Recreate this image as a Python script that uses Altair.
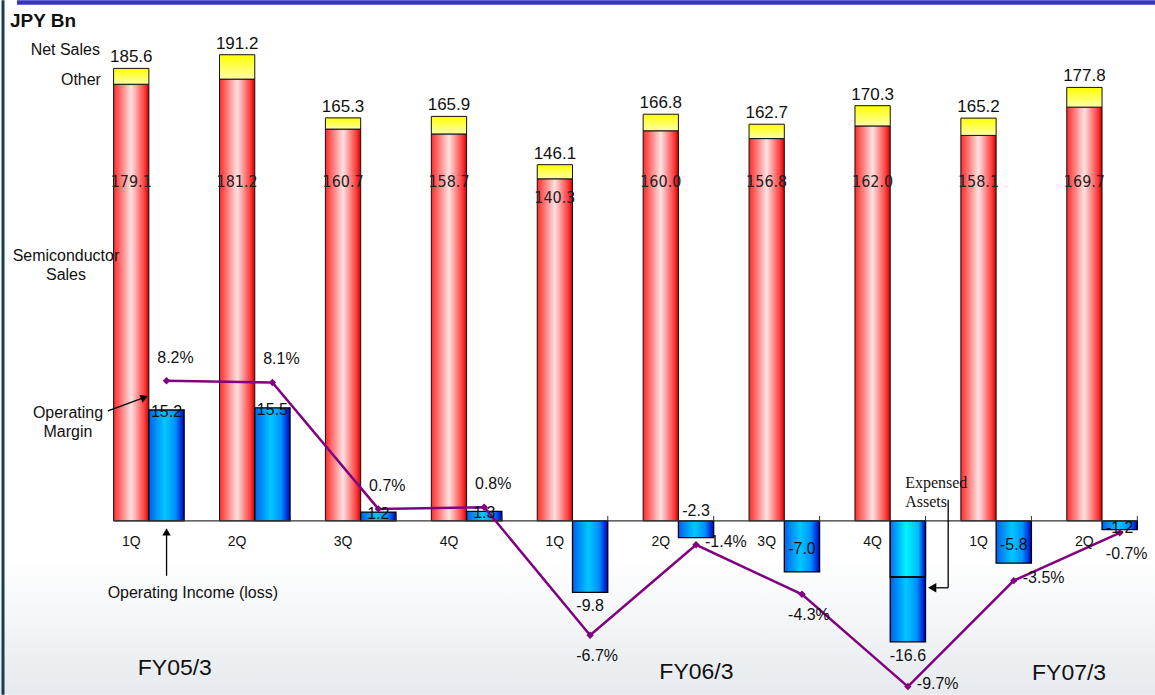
import altair as alt
import pandas as pd

# ---------------- data ----------------
quarters = ["1Q", "2Q", "3Q", "4Q", "1Q", "2Q", "3Q", "4Q", "1Q", "2Q"]
fiscal_years = ["FY05/3", "FY06/3", "FY07/3"]
net_sales = [185.6, 191.2, 165.3, 165.9, 146.1, 166.8, 162.7, 170.3, 165.2, 177.8]
semi_sales = [179.1, 181.2, 160.7, 158.7, 140.3, 160.0, 156.8, 162.0, 158.1, 169.7]
op_income = [15.2, 15.5, 1.2, 1.3, -9.8, -2.3, -7.0, -16.6, -5.8, -1.2]
op_margin = [8.2, 8.1, 0.7, 0.8, -6.7, -1.4, -4.3, -9.7, -3.5, -0.7]
expensed_assets_4q = 8.9  # lower part of the FY06/3 4Q loss bar (estimated)

# label placement (style only)
oi_label_place = ["top", "top", "top", "top", "below", "above", "center", "below", "center", "center"]
margin_label_place = ["above", "above", "above", "above", "below", "right", "below", "right", "right", "below"]

# ---------------- layout ----------------
W, H = 1060, 695
LEFT = 96
ZERO_PX = 521
PX_SALES = 2.44
PX_OI = 7.3
PX_PCT = 17.1
BW = 0.333


def dom(k):
    return [-(H - ZERO_PX) / k, ZERO_PX / k]


SANS = "Liberation Sans, Arial, sans-serif"
NARROW = "DejaVu Sans Condensed, Liberation Sans Narrow, sans-serif"
SERIF = "Liberation Serif, Times New Roman, serif"

df = pd.DataFrame({
    "i": list(range(len(quarters))),
    "q": quarters,
    "net": net_sales,
    "semi": semi_sales,
    "oi": op_income,
    "pct": op_margin,
    "oplace": oi_label_place,
    "mplace": margin_label_place,
})
df["zero"] = 0.0
df["xr0"] = df["i"] - BW
df["xr1"] = df["i"]
df["xb0"] = df["i"]
df["xb1"] = df["i"] + BW
df["xrc"] = df["i"] - BW / 2
df["xbc"] = df["i"] + BW / 2
df["net_t"] = [f"{v:.1f}" for v in net_sales]
df["semi_t"] = [f"{v:.1f}" for v in semi_sales]
df["oi_t"] = [f"{v:.1f}" for v in op_income]
df["pct_t"] = [f"{v:.1f}%" for v in op_margin]
df["oi_half"] = df["oi"] / 2
df["semi_lab"] = (df["semi"] - 8).clip(upper=139.0)

xs = alt.Scale(domain=[-0.5, 9.5], nice=False, zero=False)
ys_sales = alt.Scale(domain=dom(PX_SALES), nice=False, zero=False)
ys_oi = alt.Scale(domain=dom(PX_OI), nice=False, zero=False)
ys_pct = alt.Scale(domain=dom(PX_PCT), nice=False, zero=False)

one = pd.DataFrame({"k": [0]})

red_grad = alt.Gradient(
    gradient="linear", x1=0, x2=1, y1=0, y2=0,
    stops=[alt.GradientStop(color="#FF2A2A", offset=0),
           alt.GradientStop(color="#FFE2E2", offset=0.5),
           alt.GradientStop(color="#FF3A3A", offset=0.88),
           alt.GradientStop(color="#C80000", offset=1)])
yellow_grad = alt.Gradient(
    gradient="linear", x1=0, x2=0, y1=0, y2=1,
    stops=[alt.GradientStop(color="#FFFF00", offset=0),
           alt.GradientStop(color="#FFFFA8", offset=1)])
blue_grad = alt.Gradient(
    gradient="linear", x1=0, x2=1, y1=0, y2=0,
    stops=[alt.GradientStop(color="#0060F0", offset=0),
           alt.GradientStop(color="#00C8FF", offset=0.45),
           alt.GradientStop(color="#0090FF", offset=0.75),
           alt.GradientStop(color="#0000C8", offset=1)])
cyan_grad = alt.Gradient(
    gradient="linear", x1=0, x2=1, y1=0, y2=0,
    stops=[alt.GradientStop(color="#0070F5", offset=0),
           alt.GradientStop(color="#00F4FF", offset=0.45),
           alt.GradientStop(color="#00B8FF", offset=0.8),
           alt.GradientStop(color="#0000C8", offset=1)])
bg_grad = alt.Gradient(
    gradient="linear", x1=0, x2=0, y1=0, y2=1,
    stops=[alt.GradientStop(color="#FFFFFF", offset=0),
           alt.GradientStop(color="#FFFFFF", offset=0.8),
           alt.GradientStop(color="#E6EAEE", offset=1)])

base = alt.Chart(df)
X = lambda f: alt.X(f"{f}:Q", scale=xs, axis=None)

# background & frame
bg = alt.Chart(one).mark_rect(color=bg_grad).encode(
    x=alt.value(-LEFT), x2=alt.value(W), y=alt.value(0), y2=alt.value(H))
left_line = alt.Chart(one).mark_rule(color="#173F4F", strokeWidth=3).encode(
    x=alt.value(3 - LEFT), y=alt.value(0), y2=alt.value(H))
top_band = alt.Chart(one).mark_rect(color="#3535C8").encode(
    x=alt.value(17 - LEFT), x2=alt.value(W), y=alt.value(0), y2=alt.value(4.5))

# sales bars
red = base.mark_bar(color=red_grad, stroke="#111", strokeWidth=1).encode(
    x=X("xr0"), x2="xr1",
    y=alt.Y("semi:Q", scale=ys_sales, axis=None), y2="zero")
yellow = base.mark_bar(color=yellow_grad, stroke="#111", strokeWidth=1).encode(
    x=X("xr0"), x2="xr1",
    y=alt.Y("net:Q", scale=ys_sales, axis=None), y2="semi")
net_lab = base.mark_text(font=SANS, fontSize=17, dy=-6, baseline="alphabetic", color="#111").encode(
    x=X("xrc"), y=alt.Y("net:Q", scale=ys_sales, axis=None), text="net_t:N")
semi_lab = base.mark_text(font=NARROW, fontSize=16, baseline="middle", color="#222").encode(
    x=X("xrc"), y=alt.Y("semi_lab:Q", scale=ys_sales, axis=None), text="semi_t:N")
q_lab = base.mark_text(font=SANS, fontSize=14, dy=25, baseline="alphabetic", color="#111").encode(
    x=X("xrc"), y=alt.Y("zero:Q", scale=ys_sales, axis=None), text="q:N")

# axis line and ticks
axis_line = base.transform_filter("datum.i == 0").mark_rule(color="#333", strokeWidth=1.3).encode(
    x=alt.X("xr0:Q", scale=xs, axis=None), x2=alt.datum(9 + BW),
    y=alt.Y("zero:Q", scale=ys_sales, axis=None))
ticks = base.transform_calculate(t="2").mark_rule(color="#333", strokeWidth=1).encode(
    x=X("xb1"), y=alt.Y("zero:Q", scale=ys_sales, axis=None), y2="t:Q")

# operating income bars
blue = base.mark_bar(color=blue_grad, stroke="#000", strokeWidth=1.3).encode(
    x=X("xb0"), x2="xb1",
    y=alt.Y("oi:Q", scale=ys_oi, axis=None), y2="zero")
upper4q = base.transform_filter("datum.i == 7").transform_calculate(
    up=f"datum.oi + {expensed_assets_4q}").mark_bar(color=cyan_grad, stroke="#000", strokeWidth=1.3).encode(
    x=X("xb0"), x2="xb1",
    y=alt.Y("up:Q", scale=ys_oi, axis=None), y2="zero")

oi_top = base.transform_filter("datum.oplace == 'top'").mark_text(
    font=SANS, fontSize=16, baseline="middle", dy=2, color="#111").encode(
    x=X("xbc"), y=alt.Y("oi:Q", scale=ys_oi, axis=None), text="oi_t:N")
oi_below = base.transform_filter("datum.oplace == 'below'").mark_text(
    font=SANS, fontSize=16, baseline="middle", dy=14, color="#111").encode(
    x=X("xbc"), y=alt.Y("oi:Q", scale=ys_oi, axis=None), text="oi_t:N")
oi_above = base.transform_filter("datum.oplace == 'above'").mark_text(
    font=SANS, fontSize=16, baseline="middle", dy=-10, color="#111").encode(
    x=X("xbc"), y=alt.Y("zero:Q", scale=ys_oi, axis=None), text="oi_t:N")
oi_center = base.transform_filter("datum.oplace == 'center'").mark_text(
    font=SANS, fontSize=16, baseline="middle", dy=3, color="#111").encode(
    x=X("xbc"), y=alt.Y("oi_half:Q", scale=ys_oi, axis=None), text="oi_t:N")

# operating margin line
line = base.mark_line(color="#800080", strokeWidth=2.5).encode(
    x=X("xbc"), y=alt.Y("pct:Q", scale=ys_pct, axis=None))
pts = base.mark_point(shape="diamond", filled=True, size=55, color="#800080", opacity=1).encode(
    x=X("xbc"), y=alt.Y("pct:Q", scale=ys_pct, axis=None))
m_above = base.transform_filter("datum.mplace == 'above'").mark_text(
    font=SANS, fontSize=16, baseline="middle", dx=9, dy=-23, color="#111").encode(
    x=X("xbc"), y=alt.Y("pct:Q", scale=ys_pct, axis=None), text="pct_t:N")
m_below = base.transform_filter("datum.mplace == 'below'").mark_text(
    font=SANS, fontSize=16, baseline="middle", dx=7, dy=21, color="#111").encode(
    x=X("xbc"), y=alt.Y("pct:Q", scale=ys_pct, axis=None), text="pct_t:N")
m_right = base.transform_filter("datum.mplace == 'right'").mark_text(
    font=SANS, fontSize=16, baseline="middle", align="left", dx=9, dy=-3, color="#111").encode(
    x=X("xbc"), y=alt.Y("pct:Q", scale=ys_pct, axis=None), text="pct_t:N")


# ---------------- annotations ----------------
def txt(text, x, y, size=16, align="center", font=SANS, weight="normal", lh=19):
    return alt.Chart(one).mark_text(
        font=font, fontSize=size, align=align, baseline="alphabetic",
        fontWeight=weight, lineHeight=lh, color="#111").encode(
        x=alt.value(x - LEFT), y=alt.value(y), text=alt.value(text))


def seg(x1, y1, x2, y2, w=1.3):
    return alt.Chart(one).mark_rule(color="#000", strokeWidth=w).encode(
        x=alt.value(x1 - LEFT), y=alt.value(y1), x2=alt.value(x2 - LEFT), y2=alt.value(y2))


def head(x, y, shape, angle, size):
    return alt.Chart(one).mark_point(
        shape=shape, angle=angle, filled=True, size=size, color="#000", opacity=1).encode(
        x=alt.value(x - LEFT), y=alt.value(y))


annots = [
    txt("JPY Bn", 10, 27, size=19, align="left", weight="bold"),
    txt("Net Sales", 100, 55, size=16, align="right"),
    txt("Other", 101, 85, size=16, align="right"),
    txt(["Semiconductor", "Sales"], 66, 261, size=16),
    txt(["Operating", "Margin"], 68, 418, size=16),
    txt("Operating Income (loss)", 193, 598, size=16),
    txt(["Expensed", "Assets"], 906, 488, size=16, align="left", font=SERIF),
    txt(fiscal_years[0], 175, 675, size=23),
    txt(fiscal_years[1], 697, 679, size=23),
    txt(fiscal_years[2], 1070, 680, size=23),
    seg(108, 411, 142, 398.5),
    head(144.5, 397.5, "triangle-up", 68, 70),
    seg(166.7, 576, 166.7, 535),
    head(166.7, 532, "triangle-up", 0, 70),
    seg(949, 500, 949, 588),
    seg(949, 588, 937, 588),
    head(933, 588, "triangle-left", 0, 90),
]

# 4Q divider line between expensed assets and the rest
divider = base.transform_filter("datum.i == 7").transform_calculate(
    up=f"datum.oi + {expensed_assets_4q}").mark_rule(color="#000", strokeWidth=1.3).encode(
    x=X("xb0"), x2="xb1", y=alt.Y("up:Q", scale=ys_oi, axis=None))

chart = alt.layer(
    bg, left_line, top_band,
    red, yellow, blue, upper4q, divider, axis_line, ticks,
    line, pts,
    net_lab, semi_lab, q_lab, oi_top, oi_below, oi_above, oi_center,
    m_above, m_below, m_right,
    *annots,
).resolve_scale(y="independent").properties(
    width=W, height=H,
    padding={"left": LEFT, "top": 0, "right": 0, "bottom": 0},
    autosize=alt.AutoSizeParams(type="none"),
    background="white",
).configure_view(stroke=None)

chart.save("out.html", embed_options={"renderer": "svg", "actions": False})
